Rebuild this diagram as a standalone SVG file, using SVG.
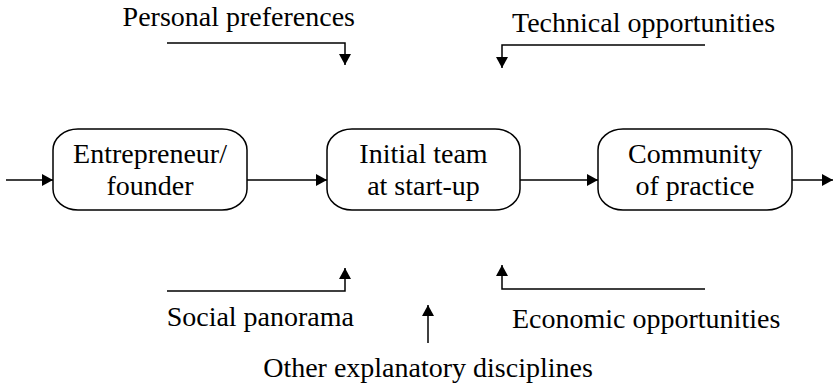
<svg xmlns="http://www.w3.org/2000/svg" width="834" height="390" viewBox="0 0 834 390">
<style>
.t{font-family:"Liberation Serif","Times New Roman",serif;font-size:28px;fill:#000}
.m{text-anchor:middle}
.e{text-anchor:end}
.s{text-anchor:start}
.box{fill:#fff;stroke:#000;stroke-width:1.5}
.ln{fill:none;stroke:#000;stroke-width:1.5}
</style>
<defs>
<marker id="ah" viewBox="0 0 11 12" refX="11" refY="6" markerWidth="11" markerHeight="12" markerUnits="userSpaceOnUse" orient="auto">
<path d="M0,0 L11,6 L0,12 Z" fill="#000"/>
</marker>
</defs>
<rect width="834" height="390" fill="#fff"/>
<g id="connectors">
<line class="ln" x1="6" y1="180" x2="53" y2="180" marker-end="url(#ah)"/>
<line class="ln" x1="247" y1="180" x2="327" y2="180" marker-end="url(#ah)"/>
<line class="ln" x1="520" y1="180" x2="598" y2="180" marker-end="url(#ah)"/>
<line class="ln" x1="792" y1="180" x2="833" y2="180" marker-end="url(#ah)"/>
<path class="ln" d="M167,43 H345 V65" marker-end="url(#ah)"/>
<path class="ln" d="M705,45 H502 V68" marker-end="url(#ah)"/>
<path class="ln" d="M167,291 H345 V268" marker-end="url(#ah)"/>
<path class="ln" d="M705,289 H502 V265" marker-end="url(#ah)"/>
<line class="ln" x1="428" y1="343" x2="428" y2="305" marker-end="url(#ah)"/>
</g>
<g id="node-entrepreneur">
<rect class="box" x="53" y="129" width="194" height="81" rx="25" ry="21"/>
<text class="t m" x="150" y="163">Entrepreneur/</text>
<text class="t m" x="150" y="195">founder</text>
</g>
<g id="node-initial-team">
<rect class="box" x="327" y="129" width="193" height="81" rx="25" ry="21"/>
<text class="t m" x="423.5" y="163">Initial team</text>
<text class="t m" x="423.5" y="195">at start-up</text>
</g>
<g id="node-community">
<rect class="box" x="598" y="129" width="194" height="81" rx="25" ry="21"/>
<text class="t m" x="695" y="163">Community</text>
<text class="t m" x="695" y="195">of practice</text>
</g>
<g id="label-personal"><text class="t e" x="355" y="26">Personal preferences</text></g>
<g id="label-technical"><text class="t s" x="512" y="32">Technical opportunities</text></g>
<g id="label-social"><text class="t e" x="354" y="326">Social panorama</text></g>
<g id="label-economic"><text class="t s" x="512" y="328">Economic opportunities</text></g>
<g id="label-other"><text class="t m" x="428" y="377">Other explanatory disciplines</text></g>
</svg>
